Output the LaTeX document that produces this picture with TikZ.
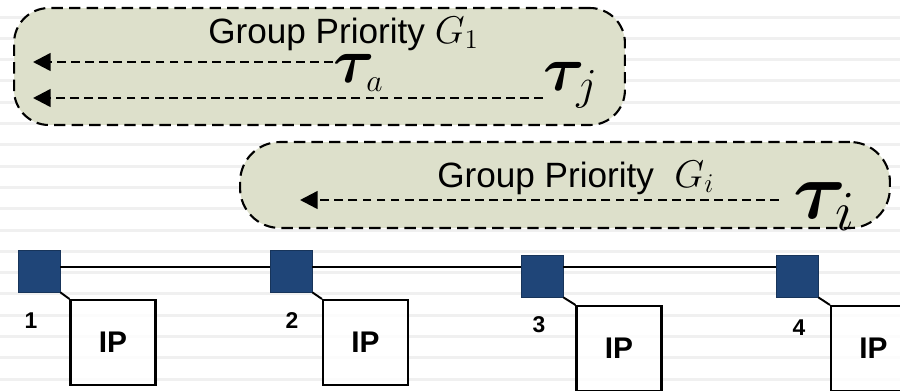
\RequirePackage{fix-cm}
\documentclass[tikz,border=0pt]{standalone}
\usepackage{bm}
\usepackage{fontspec}
\setsansfont{Liberation Sans}
\usepackage{tikz}
\usetikzlibrary{arrows.meta}
\definecolor{groupfill}{HTML}{DDE0CB}
\definecolor{routerblue}{HTML}{1F4578}
\definecolor{stripegray}{HTML}{F0F0F0}
\tikzset{
    group/.style={draw, line width=1.2pt, dash pattern=on 6.5pt off 3.5pt, fill=groupfill, rounded corners=0.7cm, inner sep=0}, % 优先级组
    flow/.style={line width=1.4pt, dash pattern=on 5pt off 3pt, -{Triangle[length=10pt,width=10pt]}}, % 任务流
    router/.style={draw=routerblue!75!black, fill=routerblue, minimum size=0.84cm, inner sep=0}, % 路由器
    ipcore/.style={draw, line width=1.2pt, fill=white, fill opacity=0.85, text opacity=1, minimum size=1.7cm, inner sep=0, font=\sffamily\bfseries\fontsize{17}{20}\selectfont}, % IP 核
    bus/.style={line width=1.1pt}, % 链路
    num/.style={font=\sffamily\bfseries\fontsize{13}{15}\selectfont}, % 编号
    task/.style={inner sep=0, anchor=base west}, % 任务
    grouplabel/.style={inner sep=0, anchor=base west, font=\sffamily\fontsize{20}{24}\selectfont}
}

\begin{document}
\begin{tikzpicture}[x=0.02cm, y=-0.02cm]
    \useasboundingbox (0,0) rectangle (900,390);

    % 背景条纹
    \foreach \k in {0,...,17}
        \draw[stripegray, line width=1.7pt] (0,{17+21.3*\k}) -- (900,{17+21.3*\k});

    % 优先级组
    \node (g1) [group, minimum width=12.22cm, minimum height=2.34cm] at (319.5,66.5) {};
    \node (g2) [group, minimum width=13cm, minimum height=1.72cm, rounded corners=0.8cm] at (565,185) {};
    \node (lab1) [grouplabel] at (208,43) {Group Priority {\fontsize{22}{26}\selectfont$G_1$}};
    \node (lab2) [grouplabel] at (437,187) {Group Priority\hspace{0.3em} {\fontsize{22}{26}\selectfont$G_i$}};

    % 任务
    \node (taua) [task, font=\fontsize{36}{40}\selectfont] at (333,82) {$\bm{\tau}_{\scriptscriptstyle a}$};
    \node (tauj) [task, font=\fontsize{36}{40}\selectfont] at (543,90) {$\bm{\tau}_j$};
    \node (taui) [task, font=\fontsize{46}{52}\selectfont] at (793,218) {$\bm{\tau}_i$};
    \coordinate (tipa) at (33,62);
    \coordinate (tipj) at (33,98);
    \coordinate (tipi) at (300,200);
    \draw[flow] (taua.west |- tipa) -- (tipa);
    \draw[flow] (tauj.west |- tipj) -- (tipj);
    \draw[flow, shorten <=8pt] (taui.west |- tipi) -- (tipi);

    % 路由器与 IP 核
    \node (r1) [router] at (39,271) {};
    \node (r2) [router] at (291,271) {};
    \node (r3) [router] at (542,276) {};
    \node (r4) [router] at (797,276) {};
    \node (ip1) [ipcore] at (113,342.5) {IP};
    \node (ip2) [ipcore] at (365.5,342.5) {IP};
    \node (ip3) [ipcore] at (619,348.5) {IP};
    \node (ip4) [ipcore] at (873.5,348.5) {IP};
    \node (n1) [num] at (31,321) {1};
    \node (n2) [num] at (292,321) {2};
    \node (n3) [num] at (539,325) {3};
    \node (n4) [num] at (799,328) {4};

    \coordinate (busy) at (0,267);
    \draw[bus] (r1.east |- busy) -- (r2.west |- busy);
    \draw[bus] (r2.east |- busy) -- (r3.west |- busy);
    \draw[bus] (r3.east |- busy) -- (r4.west |- busy);
    \draw[bus] (r1.south east) -- (ip1.north west);
    \draw[bus] (r2.south east) -- (ip2.north west);
    \draw[bus] (r3.south east) -- (ip3.north west);
    \draw[bus] (r4.south east) -- (ip4.north west);
\end{tikzpicture}
\end{document}
